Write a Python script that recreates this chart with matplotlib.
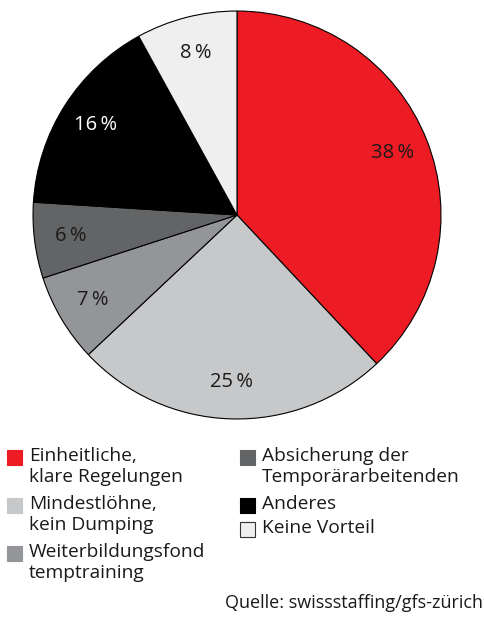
import matplotlib
matplotlib.use("Agg")
import matplotlib.pyplot as plt
from matplotlib.patches import Rectangle

plt.rcParams['font.family'] = ['Open Sans', 'DejaVu Sans']

# data
labels = ['Einheitliche,\nklare Regelungen', 'Mindestlöhne,\nkein Dumping',
          'Weiterbildungsfond\ntemptraining', 'Absicherung der\nTemporärarbeitenden',
          'Anderes', 'Keine Vorteil']
shares = [38, 25, 7, 6, 16, 8]
colors = ['#ed1c24', '#c7c8ca', '#939598', '#636466', '#000000', '#efefef']
text_colors = ['#1a1a1a', '#1a1a1a', '#1a1a1a', '#1a1a1a', 'white', '#1a1a1a']
source = 'Quelle: swissstaffing/gfs-zürich'

fig = plt.figure(figsize=(4.84, 6.19), dpi=100)

# pie
ax = fig.add_axes([32 / 484, 1 - 420 / 619, 410 / 484, 410 / 619])
wedges, texts, autotexts = ax.pie(
    shares, colors=colors, startangle=90, counterclock=False,
    autopct=lambda p: '%d\u2009%%' % round(p), pctdistance=0.82,
    wedgeprops=dict(edgecolor='black', linewidth=0.8))
for t, c in zip(autotexts, text_colors):
    t.set_color(c)
    t.set_fontsize(14.5)
ax.set_xlim(-1.005, 1.005)
ax.set_ylim(-1.005, 1.005)
ax.set_aspect('equal')

# legend drawn by hand: two columns, markers aligned with first line
lax = fig.add_axes([0, 0, 1, 1])
lax.set_xlim(0, 484)
lax.set_ylim(619, 0)
lax.axis('off')
col_x = [7, 240]
row_y = [457, 505, 553]
slots = [(0, 0), (0, 1), (0, 2), (1, 0), (1, 1), (1, 2)]
for (col, row), lab, c in zip(slots, labels, colors):
    if col == 1 and row > 0:
        y = row_y[0] + 24 * (row + 1)
    else:
        y = row_y[row]
    lax.add_patch(Rectangle((col_x[col], y - 7), 15, 15, facecolor=c,
                            edgecolor='#333333' if c == '#efefef' else c, linewidth=0.8))
    lax.text(col_x[col] + 22, y - 10, lab, fontsize=13.8, va='top', ha='left',
             color='#1a1a1a', linespacing=1.2)

lax.text(483, 603, source, fontsize=13, ha='right', va='center', color='#1a1a1a')

fig.savefig('out.png', dpi=100)
